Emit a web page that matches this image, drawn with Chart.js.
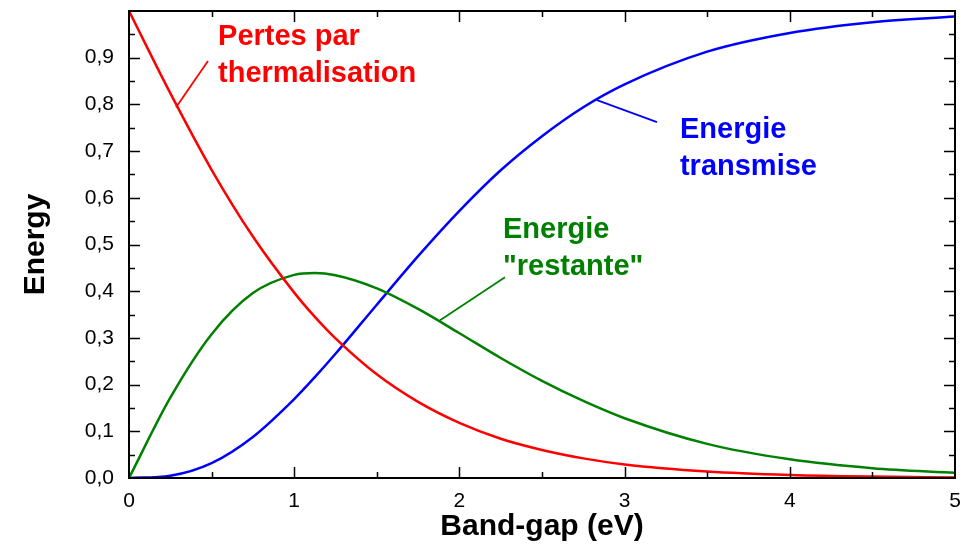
<!DOCTYPE html>
<html>
<head>
<meta charset="utf-8">
<script src="https://cdn.jsdelivr.net/npm/chart.js@4.4.1/dist/chart.umd.min.js"></script>
<style>
  html, body { margin: 0; padding: 0; background: #fff; }
  #wrap { width: 968px; height: 548px; }
</style>
</head>
<body>
<div id="wrap"><canvas id="chart" width="968" height="548"></canvas></div>
<script>
// values
const bandGap   = [0, 0.25, 0.5, 0.75, 1, 1.125, 1.25, 1.5, 1.75, 2, 2.25, 2.5, 2.75, 3, 3.5, 4, 4.5, 5];
const pertes    = [1.000, 0.824, 0.660, 0.517, 0.397, 0.345, 0.299, 0.222, 0.163, 0.118, 0.084, 0.060, 0.042, 0.029, 0.014, 0.0065, 0.003, 0.0013];
const restante  = [0.000, 0.172, 0.308, 0.396, 0.435, 0.439, 0.434, 0.406, 0.362, 0.310, 0.257, 0.208, 0.165, 0.128, 0.073, 0.040, 0.021, 0.011];
const transmise = [0.000, 0.005, 0.032, 0.088, 0.169, 0.216, 0.266, 0.371, 0.475, 0.572, 0.659, 0.732, 0.794, 0.843, 0.913, 0.953, 0.976, 0.988];

const xTickLabels = ['0', '1', '2', '3', '4', '5'];
const yTickLabels = ['0,0', '0,1', '0,2', '0,3', '0,4', '0,5', '0,6', '0,7', '0,8', '0,9'];

const RED = '#ff0000', GREEN = '#008000', BLUE = '#0000ff';
const FONT = '"Liberation Sans", Arial, sans-serif';

// labels with their leader lines (data units)
const notes = [
  { lines: ['Pertes par', 'thermalisation'], color: RED,   x: 0.539, y: [0.927, 0.848], from: [0.478, 0.893], to: [0.285, 0.794] },
  { lines: ['Energie', 'transmise'],         color: BLUE,  x: 3.335, y: [0.728, 0.649], from: [3.196, 0.762], to: [2.833, 0.809] },
  { lines: ['Energie', '"restante"'],        color: GREEN, x: 2.264, y: [0.514, 0.435], from: [2.276, 0.430], to: [1.883, 0.338] }
];

function pts(ys) {
  return bandGap.map((x, i) => ({ x: x, y: ys[i] }));
}

// frame with inward ticks on all four sides
const frameTicks = {
  id: 'frameTicks',
  afterDatasetsDraw(chart) {
    const { ctx, chartArea: a, scales: { x, y } } = chart;
    ctx.save();
    ctx.strokeStyle = '#000';
    ctx.lineWidth = 1.5;
    ctx.beginPath();
    for (let i = 1; i < 10; i++) {
      const px = Math.round(x.getPixelForValue(i * 0.5)) + 0.5;
      const len = i % 2 ? 6 : 11;
      ctx.moveTo(px, a.bottom); ctx.lineTo(px, a.bottom - len);
      ctx.moveTo(px, a.top); ctx.lineTo(px, a.top + len);
    }
    for (let i = 1; i < 20; i++) {
      const py = Math.round(y.getPixelForValue(i * 0.05)) + 0.5;
      const len = i % 2 ? 6 : 11;
      ctx.moveTo(a.left, py); ctx.lineTo(a.left + len, py);
      ctx.moveTo(a.right, py); ctx.lineTo(a.right - len, py);
    }
    ctx.stroke();
    ctx.lineWidth = 2;
    ctx.strokeRect(a.left, a.top, a.right - a.left, a.bottom - a.top);

    // annotations
    ctx.lineWidth = 1.8;
    notes.forEach(n => {
      ctx.strokeStyle = n.color;
      ctx.beginPath();
      ctx.moveTo(x.getPixelForValue(n.from[0]), y.getPixelForValue(n.from[1]));
      ctx.lineTo(x.getPixelForValue(n.to[0]), y.getPixelForValue(n.to[1]));
      ctx.stroke();
      ctx.fillStyle = n.color;
      ctx.font = 'bold 29px ' + FONT;
      ctx.textBaseline = 'alphabetic';
      ctx.textAlign = 'left';
      n.lines.forEach((t, i) => {
        ctx.fillText(t, x.getPixelForValue(n.x), y.getPixelForValue(n.y[i]));
      });
    });
    ctx.restore();
  }
};

new Chart(document.getElementById('chart'), {
  type: 'line',
  data: {
    datasets: [
      { label: 'Pertes par thermalisation', data: pts(pertes),    borderColor: RED },
      { label: 'Energie "restante"',        data: pts(restante),  borderColor: GREEN },
      { label: 'Energie transmise',         data: pts(transmise), borderColor: BLUE }
    ]
  },
  options: {
    responsive: false,
    animation: false,
    layout: { padding: { top: 11, right: 13, left: 0, bottom: 0 } },
    elements: {
      line: { borderWidth: 2.5, cubicInterpolationMode: 'monotone', fill: false },
      point: { radius: 0 }
    },
    plugins: { legend: { display: false }, tooltip: { enabled: false } },
    scales: {
      x: {
        type: 'linear', min: 0, max: 5,
        grid: { display: false, drawTicks: false },
        border: { display: false },
        ticks: {
          stepSize: 1, padding: 11, color: '#000',
          font: { family: FONT, size: 21 },
          callback: (v, i) => xTickLabels[i] ?? ''
        },
        title: {
          display: true, text: 'Band-gap (eV)', color: '#000',
          font: { family: FONT, size: 30, weight: 'bold' },
          padding: { top: 0, bottom: 3 }
        },
        afterFit: s => { s.height = 70; s.paddingLeft = 0; s.paddingRight = 0; }
      },
      y: {
        min: 0, max: 1,
        grid: { display: false, drawTicks: false },
        border: { display: false },
        ticks: {
          stepSize: 0.1, padding: 15, color: '#000',
          font: { family: FONT, size: 21 },
          callback: (v, i) => yTickLabels[i] ?? ''
        },
        title: {
          display: true, text: 'Energy', color: '#000',
          font: { family: FONT, size: 30, weight: 'bold' },
          padding: { top: 18, bottom: 0 }
        },
        afterFit: s => { s.width = 129; s.paddingTop = 0; s.paddingBottom = 0; }
      }
    }
  },
  plugins: [frameTicks]
});
</script>
</body>
</html>
